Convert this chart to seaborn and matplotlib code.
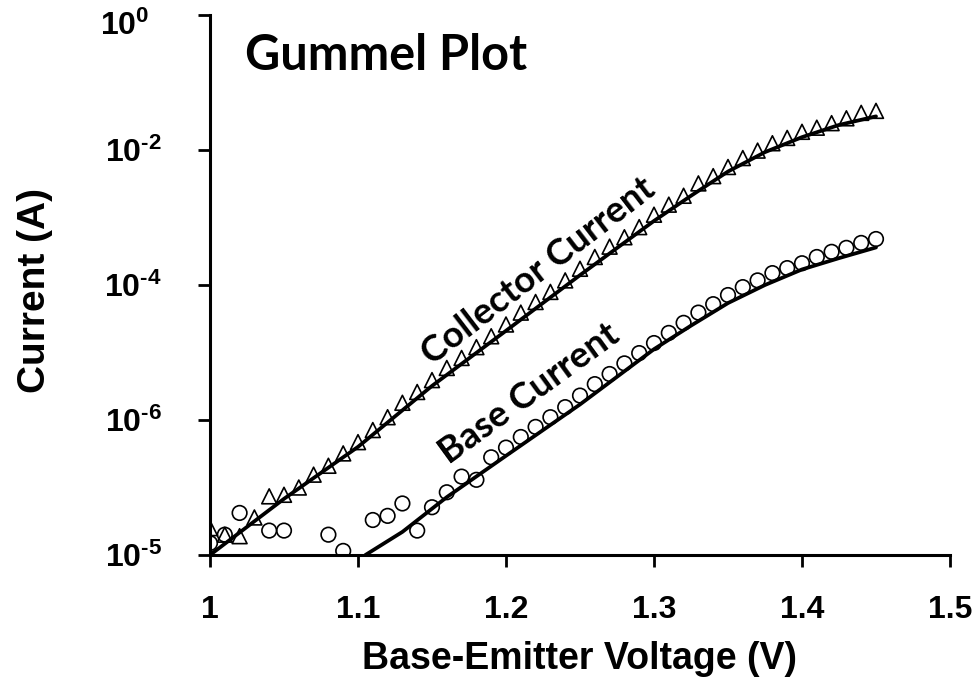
import matplotlib
matplotlib.use("Agg")
import matplotlib.pyplot as plt
from matplotlib.ticker import NullLocator, FixedLocator
from matplotlib.transforms import ScaledTranslation
import pandas as pd
import seaborn as sns

# Measured collector current (A) vs base-emitter voltage (V)
vbe_c = [1.00, 1.01, 1.02, 1.03, 1.04, 1.05, 1.06, 1.07, 1.08, 1.09,
         1.10, 1.11, 1.12, 1.13, 1.14, 1.15, 1.16, 1.17, 1.18, 1.19,
         1.20, 1.21, 1.22, 1.23, 1.24, 1.25, 1.26, 1.27, 1.28, 1.29,
         1.30, 1.31, 1.32, 1.33, 1.34, 1.35, 1.36, 1.37, 1.38, 1.39,
         1.40, 1.41, 1.42, 1.43, 1.44, 1.45]
ic_meas = [2.5e-8, 2.0e-8, 1.9e-8, 3.6e-8, 7.4e-8, 7.8e-8, 1.0e-7, 1.55e-7, 2.1e-7, 3.2e-7,
           4.7e-7, 7.1e-7, 1.1e-6, 1.8e-6, 2.6e-6, 3.9e-6, 5.9e-6, 8.3e-6, 1.2e-5, 1.74e-5,
           2.6e-5, 3.9e-5, 5.6e-5, 7.9e-5, 1.17e-4, 1.74e-4, 2.6e-4, 3.7e-4, 5.1e-4, 7.2e-4,
           1.1e-3, 1.55e-3, 2.1e-3, 3.2e-3, 4.1e-3, 5.6e-3, 7.6e-3, 9.8e-3, 1.26e-2, 1.51e-2,
           1.86e-2, 2.14e-2, 2.5e-2, 2.95e-2, 3.55e-2, 3.8e-2]

# Measured base current (A); points lost in the noise floor are absent
vbe_b = [1.00, 1.01, 1.02, 1.04, 1.05, 1.08, 1.09, 1.11, 1.12, 1.13,
         1.14, 1.15, 1.16, 1.17, 1.18, 1.19, 1.20, 1.21, 1.22, 1.23,
         1.24, 1.25, 1.26, 1.27, 1.28, 1.29, 1.30, 1.31, 1.32, 1.33,
         1.34, 1.35, 1.36, 1.37, 1.38, 1.39, 1.40, 1.41, 1.42, 1.43,
         1.44, 1.45]
ib_meas = [1.5e-8, 2.0e-8, 4.2e-8, 2.3e-8, 2.3e-8, 2.0e-8, 1.15e-8, 3.3e-8, 3.8e-8, 5.8e-8,
           2.3e-8, 5.1e-8, 8.5e-8, 1.45e-7, 1.3e-7, 2.8e-7, 3.9e-7, 5.6e-7, 7.9e-7, 1.1e-6,
           1.55e-6, 2.3e-6, 3.4e-6, 4.8e-6, 6.9e-6, 9.8e-6, 1.38e-5, 1.95e-5, 2.75e-5, 3.9e-5,
           5.2e-5, 7.1e-5, 9.3e-5, 1.17e-4, 1.5e-4, 1.78e-4, 2.1e-4, 2.6e-4, 3.1e-4, 3.55e-4,
           4.2e-4, 4.8e-4]

# Simulated (model) curves
vbe_model_c = [1.000, 1.050, 1.100, 1.150, 1.200, 1.250, 1.300, 1.325, 1.350, 1.375, 1.400, 1.425, 1.450]
ic_model = [1.0e-8, 6.8e-8, 4.0e-7, 3.2e-6, 2.1e-5, 1.4e-4, 8.9e-4, 2.1e-3, 4.8e-3, 9.3e-3, 1.55e-2, 2.35e-2, 3.15e-2]
vbe_model_b = [1.105, 1.130, 1.160, 1.200, 1.250, 1.300, 1.325, 1.350, 1.375, 1.400, 1.425, 1.450]
ib_model = [1.0e-8, 2.2e-8, 7.2e-8, 2.95e-7, 1.7e-6, 1.12e-5, 2.5e-5, 5.4e-5, 1.0e-4, 1.7e-4, 2.5e-4, 3.6e-4]

x_ticks = [1.0, 1.1, 1.2, 1.3, 1.4, 1.5]
x_tick_labels = ["1", "1.1", "1.2", "1.3", "1.4", "1.5"]
y_ticks = [1e0, 1e-2, 1e-4, 1e-6, 1e-8]
y_tick_labels = [r"$\mathbf{10^{0}}$", r"$\mathbf{10^{\text{-}2}}$", r"$\mathbf{10^{\text{-}4}}$",
                 r"$\mathbf{10^{\text{-}6}}$", r"$\mathbf{10^{\text{-}5}}$"]

sns.set_style("ticks")
plt.rcParams["font.family"] = ["Liberation Sans", "DejaVu Sans"]
plt.rcParams["font.weight"] = "bold"
plt.rcParams["mathtext.fontset"] = "custom"
plt.rcParams["mathtext.bf"] = "Liberation Sans:bold"
plt.rcParams["mathtext.rm"] = "Liberation Sans:bold"
for key in ("text.color", "axes.labelcolor", "xtick.color", "ytick.color",
            "xtick.labelcolor", "ytick.labelcolor", "axes.edgecolor"):
    plt.rcParams[key] = "black"

W, H = 979, 683
fig = plt.figure(figsize=(W / 100, H / 100), dpi=100)
fig.patch.set_facecolor("white")
ax = fig.add_axes([210 / W, (H - 555) / H, 740 / W, 540 / H])
ax.set_facecolor("white")

meas_c = pd.DataFrame({"vbe": vbe_c, "i": ic_meas})
meas_b = pd.DataFrame({"vbe": vbe_b, "i": ib_meas})
model_c = pd.DataFrame({"vbe": vbe_model_c, "i": ic_model})
model_b = pd.DataFrame({"vbe": vbe_model_b, "i": ib_model})

sns.lineplot(data=model_c, x="vbe", y="i", ax=ax, color="black", linewidth=2.7,
             estimator=None, sort=False, zorder=2)
sns.lineplot(data=model_b, x="vbe", y="i", ax=ax, color="black", linewidth=2.7,
             estimator=None, sort=False, zorder=2)
sns.scatterplot(data=meas_c, x="vbe", y="i", ax=ax, marker="^", s=115,
                facecolor="none", edgecolor="black", linewidth=1.2, zorder=3)
sns.scatterplot(data=meas_b, x="vbe", y="i", ax=ax, marker="o", s=110,
                facecolor="none", edgecolor="black", linewidth=1.2, zorder=3)

ax.set_yscale("log")
ax.set_xlim(1.0, 1.5)
ax.set_ylim(1e-8, 1e0)
ax.xaxis.set_major_locator(FixedLocator(x_ticks))
ax.set_xticklabels(x_tick_labels)
ax.yaxis.set_major_locator(FixedLocator(y_ticks))
ax.set_yticklabels(y_tick_labels)
ax.yaxis.set_minor_locator(NullLocator())
ax.xaxis.set_minor_locator(NullLocator())

for side in ("top", "right"):
    ax.spines[side].set_visible(False)
for side in ("left", "bottom"):
    ax.spines[side].set_linewidth(2.2)
    ax.spines[side].set_color("black")
ax.tick_params(axis="both", direction="out", length=8.6, width=2.0, color="black",
               labelsize=23, labelcolor="black")
ax.tick_params(axis="x", pad=20)
ax.tick_params(axis="y", pad=26)
for lab in ax.get_xticklabels():
    lab.set_fontweight("bold")

# keep the top decade label inside the figure, nudged left and down
top_label = ax.yaxis.get_major_ticks()[0].label1
top_label.set_transform(top_label.get_transform()
                        + ScaledTranslation(-0.13, -0.08, fig.dpi_scale_trans))

ax.set_xlabel("Base-Emitter Voltage (V)", fontsize=27, fontweight="bold", color="black")
ax.set_ylabel("Current (A)", fontsize=28, fontweight="bold", color="black")
ax.xaxis.set_label_coords(0.5, -0.16)
ax.yaxis.set_label_coords(-0.212, 0.489)

def fig_xy(px, py):
    return px / W, 1 - py / H

fig.text(*fig_xy(245, 70), "Gummel Plot", fontsize=35, fontweight="bold",
         family=["Lato", "DejaVu Sans"], ha="left", va="baseline", color="black")
fig.text(*fig_xy(538, 271), "Collector Current", fontsize=26.5, fontweight="bold",
         family=["Lato", "DejaVu Sans"], ha="center", va="center",
         rotation=37.5, rotation_mode="anchor", color="black")
fig.text(*fig_xy(529, 394), "Base Current", fontsize=26.5, fontweight="bold",
         family=["Lato", "DejaVu Sans"], ha="center", va="center",
         rotation=36, rotation_mode="anchor", color="black")

fig.savefig("out.png", dpi=100, facecolor="white")
